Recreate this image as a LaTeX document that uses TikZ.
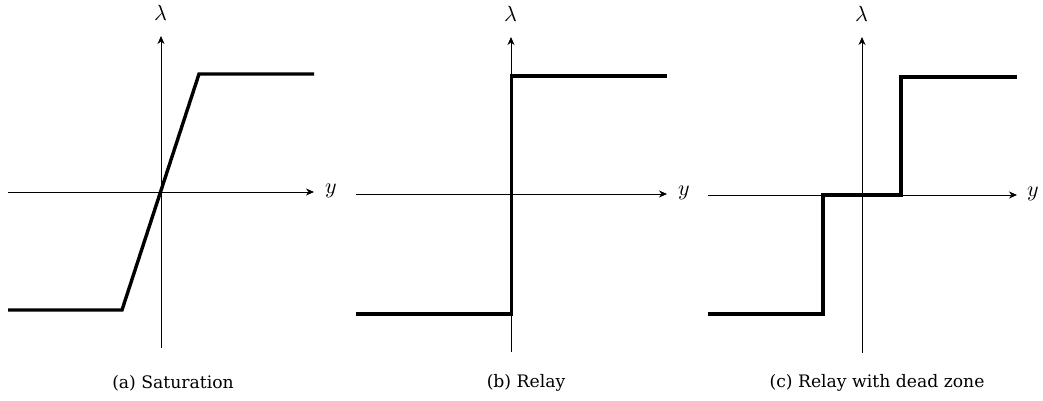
\documentclass[tikz,border=0pt]{standalone}
\usepackage{fontspec}
\setmainfont{DejaVu Serif}
\usepackage{unicode-math}
\setmathfont{Latin Modern Math}
\usetikzlibrary{arrows.meta}
\tikzset{
  axis/.style={line width=0.9pt, -{Stealth[length=8pt,width=7pt,inset=2.5pt]}},
  curve/.style={line width=3.4pt, line join=miter},
  axlabel/.style={inner sep=0pt, font=\fontsize{22}{24}\selectfont},
  caption/.style={inner sep=0pt, font=\fontsize{17.2}{19}\selectfont}
}
\begin{document}
\begin{tikzpicture}[x=1pt,y=-1pt]
\useasboundingbox (0,0) rectangle (1043,401);
% panel a
\coordinate (ax1) at (8,192); \coordinate (ax2) at (314,192);
\coordinate (ay1) at (161,348); \coordinate (ay2) at (161,36);
\draw[axis] (ax1) -- (ax2);
\draw[axis] (ay1) -- (ay2);
\node[axlabel] (la) at (161,13) {$\lambda$};
\node[axlabel] (ya) at (331,191) {$y$};
\draw[curve] (8,310) -- (122,310) -- (199,74) -- (314,74);
\node[caption] (ca) at (173,383) {(a) Saturation};
% panel b
\coordinate (bx1) at (356,194); \coordinate (bx2) at (667,194);
\coordinate (by1) at (511,352); \coordinate (by2) at (511,37);
\draw[axis] (bx1) -- (bx2);
\draw[axis] (by1) -- (by2);
\node[axlabel] (lb) at (511,14) {$\lambda$};
\node[axlabel] (yb) at (684,193) {$y$};
\draw[curve] (356,314) -- (511.5,314) -- (511.5,76) -- (667,76);
\node[caption] (cb) at (526,383) {(b) Relay};
% panel c
\coordinate (cx1) at (708,195); \coordinate (cx2) at (1017,195);
\coordinate (cy1) at (862,353); \coordinate (cy2) at (862,37);
\draw[axis] (cx1) -- (cx2);
\draw[axis] (cy1) -- (cy2);
\node[axlabel] (lc) at (862,14) {$\lambda$};
\node[axlabel] (yc) at (1033,194) {$y$};
\draw[curve] (708,314) -- (823,314) -- (823,195) -- (901,195) -- (901,77) -- (1017,77);
\node[caption] (cc) at (877,383) {(c) Relay with dead zone};
\end{tikzpicture}
\end{document}
